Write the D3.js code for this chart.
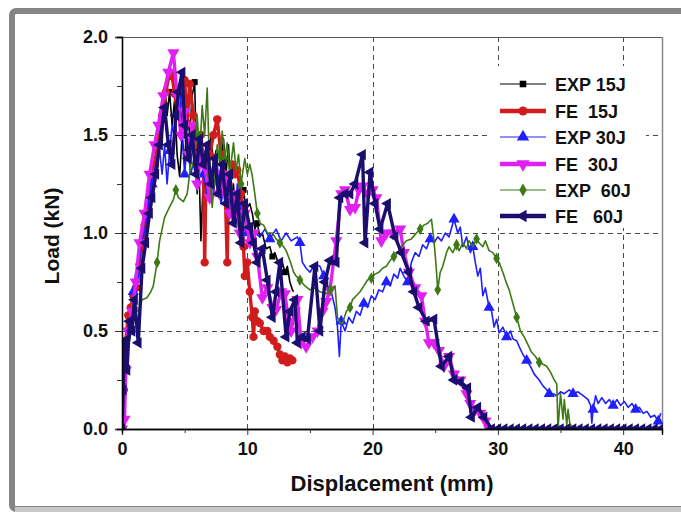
<!DOCTYPE html>
<html>
<head>
<meta charset="utf-8">
<script src="https://cdn.jsdelivr.net/npm/d3@7"></script>
<style>
  body { margin: 0; background: #fff; }
  text { font-family: Arial, "Liberation Sans", sans-serif; font-weight: bold; fill: #111; }
</style>
</head>
<body>
<div class="vis"></div>
<script>
'use strict';

// load vs displacement, [mm, kN]
var exp15 = [[0,0],[0.2,0.35],[0.4,0.5],[0.6,0.45],[0.9,0.6],[1.2,0.72],[1.5,0.85],[1.8,1.0],[2.1,1.1],[2.4,1.22],[2.7,1.35],[3.0,1.5],[3.2,1.45],[3.4,1.75],[3.6,1.6],[3.8,1.72],[4.0,1.55],[4.2,1.68],[4.4,1.4],[4.6,1.29],[4.8,1.5],[5.0,1.35],[5.2,1.62],[5.4,1.5],[5.6,1.7],[5.8,1.77],[6.0,1.2],[6.1,1.45],[6.3,0.96],[6.5,1.3],[6.7,1.4],[6.9,1.25],[7.1,1.5],[7.3,1.35],[7.5,1.42],[7.7,1.2],[7.9,1.35],[8.1,1.48],[8.3,1.3],[8.5,1.45],[8.7,1.15],[8.9,1.25],[9.1,1.05],[9.3,1.2],[9.5,1.1],[9.7,1.22],[9.9,1.12],[10.2,1.15],[10.4,1.1],[10.6,1.02],[10.8,1.05],[11.0,0.98],[11.2,1.0],[11.5,0.92],[11.8,0.93],[12.0,0.88],[12.2,0.9],[12.4,0.86],[12.6,0.82],[12.8,0.85],[13.0,0.8],[13.2,0.83],[13.4,0.75],[13.6,0.71],[13.7,0.7]];

var fe15 = [[0,0],[0.15,0.2],[0.3,0.45],[0.5,0.58],[0.7,0.62],[0.9,0.68],[1.1,0.72],[1.4,0.84],[1.6,0.95],[1.8,1.04],[2.0,1.1],[2.3,1.25],[2.6,1.35],[2.9,1.48],[3.2,1.6],[3.5,1.72],[3.8,1.82],[4.0,1.8],[4.2,1.71],[4.5,1.6],[4.8,1.7],[5.0,1.78],[5.2,1.56],[5.4,1.76],[5.7,1.6],[6.0,1.45],[6.3,1.5],[6.5,1.35],[6.6,0.85],[6.7,1.3],[7.0,1.4],[7.3,1.5],[7.6,1.58],[7.9,1.4],[8.2,1.3],[8.4,0.85],[8.5,1.25],[8.8,1.35],[9.0,1.3],[9.2,1.32],[9.5,1.2],[9.7,0.93],[9.8,0.78],[10.0,0.85],[10.2,0.7],[10.4,0.57],[10.5,0.47],[10.6,0.6],[10.8,0.55],[11.0,0.54],[11.3,0.5],[11.6,0.5],[11.8,0.47],[12.1,0.45],[12.4,0.42],[12.6,0.38],[12.8,0.35],[13.0,0.37],[13.2,0.34],[13.4,0.36],[13.6,0.35]];

var exp30 = [[0,0],[0.1,0.3],[0.2,0.45],[0.3,0.35],[0.5,0.55],[0.7,0.48],[0.9,0.7],[1.1,0.8],[1.3,0.75],[1.5,0.95],[1.8,1.0],[2.1,1.15],[2.4,1.25],[2.7,1.35],[3.0,1.42],[3.2,1.3],[3.4,1.45],[3.6,1.25],[3.8,1.42],[4.0,1.55],[4.2,1.48],[4.4,1.65],[4.6,1.75],[4.8,1.5],[5.0,1.3],[5.2,1.45],[5.5,1.3],[5.8,1.4],[6.0,1.22],[6.2,1.45],[6.5,1.3],[6.8,1.2],[7.0,1.35],[7.3,1.2],[7.6,1.35],[7.9,1.15],[8.2,1.25],[8.5,1.15],[8.8,1.2],[9.0,1.05],[9.2,1.25],[9.5,1.1],[9.8,1.0],[10.0,1.05],[10.3,0.97],[10.6,1.0],[11.0,0.98],[11.4,1.02],[11.8,0.97],[12.3,1.02],[12.7,0.96],[13.1,1.0],[13.5,0.96],[14.0,0.98],[14.2,0.95],[14.4,0.85],[14.7,0.82],[15.0,0.8],[15.4,0.84],[15.8,0.83],[16.1,0.78],[16.4,0.73],[16.7,0.7],[17.0,0.62],[17.2,0.52],[17.35,0.37],[17.5,0.55],[17.8,0.5],[18.1,0.57],[18.4,0.54],[18.7,0.6],[19.0,0.58],[19.3,0.64],[19.6,0.62],[19.9,0.68],[20.2,0.66],[20.5,0.71],[20.8,0.7],[21.1,0.75],[21.4,0.73],[21.7,0.79],[22.0,0.77],[22.2,0.82],[22.5,0.78],[22.8,0.75],[23.1,0.85],[23.4,0.9],[23.7,0.88],[24.0,0.94],[24.3,0.92],[24.6,0.97],[24.9,0.95],[25.2,0.98],[25.5,0.96],[25.8,1.0],[26.1,0.98],[26.5,1.07],[26.8,1.0],[27.0,1.03],[27.2,0.93],[27.5,0.98],[27.8,0.9],[28.0,0.93],[28.2,0.85],[28.4,0.78],[28.6,0.82],[28.8,0.68],[29.0,0.72],[29.3,0.62],[29.5,0.6],[29.7,0.52],[29.9,0.56],[30.1,0.49],[30.4,0.52],[30.7,0.47],[31.0,0.5],[31.2,0.46],[31.5,0.45],[31.7,0.42],[32.0,0.38],[32.3,0.35],[32.6,0.32],[32.9,0.28],[33.3,0.25],[33.6,0.22],[33.9,0.2],[34.1,0.18],[34.4,0.18],[34.7,0.17],[35.0,0.19],[35.3,0.18],[35.7,0.2],[36.0,0.18],[36.4,0.19],[36.8,0.17],[37.2,0.15],[37.4,0.12],[37.5,0.03],[37.6,0.1],[37.8,0.17],[38.0,0.13],[38.3,0.16],[38.6,0.13],[38.9,0.15],[39.2,0.12],[39.5,0.15],[39.8,0.12],[40.1,0.14],[40.4,0.11],[40.7,0.13],[41.0,0.1],[41.3,0.11],[41.6,0.08],[41.9,0.09],[42.2,0.06],[42.5,0.07],[42.8,0.04],[43.0,0.08]];

var fe30 = [[0,0],[0.2,0.05],[0.3,0.3],[0.5,0.5],[0.8,0.6],[1.1,0.75],[1.4,0.95],[1.8,1.1],[2.2,1.3],[2.6,1.45],[2.9,1.55],[3.3,1.7],[3.7,1.82],[4.1,1.92],[4.4,1.7],[4.7,1.5],[5.0,1.62],[5.3,1.4],[5.6,1.55],[6.0,1.25],[6.3,1.4],[6.6,1.34],[7.0,1.18],[7.4,1.3],[7.8,1.2],[8.2,1.3],[8.6,1.1],[9.0,1.2],[9.4,1.0],[9.8,1.1],[10.2,0.95],[10.5,1.0],[10.8,0.88],[11.2,0.67],[11.6,0.72],[12.0,0.62],[12.3,0.61],[12.7,0.7],[13.0,0.69],[13.3,0.55],[13.5,0.5],[13.8,0.6],[14.0,0.66],[14.3,0.44],[14.7,0.42],[15.2,0.47],[15.6,0.5],[16.0,0.6],[16.3,0.65],[16.6,0.71],[17.1,0.96],[17.5,1.2],[17.8,1.22],[18.2,1.12],[18.6,1.13],[18.9,1.22],[19.2,1.24],[19.6,1.2],[20.0,1.22],[20.3,1.18],[20.7,0.96],[21.1,1.0],[21.6,1.0],[22.2,1.02],[22.5,0.9],[22.9,0.8],[23.4,0.72],[23.9,0.68],[24.2,0.55],[24.5,0.44],[24.9,0.44],[25.3,0.4],[25.7,0.32],[26.1,0.37],[26.5,0.28],[27.0,0.25],[27.5,0.18],[27.8,0.13],[28.2,0.1],[28.6,0.08],[29.0,0.04],[29.3,0]];

var exp60 = [[0,0],[0.05,0.21],[0.2,0.3],[0.4,0.42],[0.6,0.5],[0.8,0.58],[1.0,0.62],[1.3,0.6],[1.6,0.66],[2.0,0.67],[2.3,0.7],[2.5,0.73],[2.8,0.85],[3.0,0.96],[3.2,1.02],[3.4,1.08],[3.7,1.12],[4.1,1.17],[4.3,1.22],[4.5,1.18],[4.9,1.16],[5.2,1.2],[5.4,1.3],[5.6,1.45],[5.8,1.35],[6.0,1.6],[6.2,1.4],[6.4,1.65],[6.6,1.5],[6.8,1.74],[7.0,1.3],[7.2,1.13],[7.4,1.3],[7.6,1.45],[7.8,1.35],[8.0,1.52],[8.2,1.38],[8.4,1.46],[8.6,1.3],[8.9,1.46],[9.1,1.32],[9.3,1.4],[9.5,1.25],[9.8,1.38],[10.0,1.3],[10.2,1.35],[10.4,1.29],[10.6,1.2],[10.8,1.1],[11.0,1.05],[11.3,1.04],[11.6,1.0],[12.0,1.0],[12.3,0.97],[12.6,0.95],[12.9,0.93],[13.1,0.91],[13.4,0.86],[13.7,0.8],[13.9,0.78],[14.2,0.76],[14.6,0.73],[15.0,0.71],[15.4,0.72],[15.8,0.7],[16.3,0.69],[16.6,0.71],[17.0,0.73],[17.2,0.57],[17.4,0.54],[17.6,0.54],[17.9,0.6],[18.2,0.62],[18.4,0.66],[18.7,0.68],[19.0,0.7],[19.3,0.73],[19.6,0.76],[19.9,0.77],[20.2,0.79],[20.5,0.8],[20.8,0.82],[21.1,0.83],[21.4,0.86],[21.7,0.88],[22.0,0.9],[22.3,0.93],[22.7,0.96],[23.1,0.97],[23.5,1.0],[23.8,1.02],[24.1,1.04],[24.4,1.05],[24.7,1.07],[24.9,0.96],[25.05,0.85],[25.2,0.71],[25.4,0.8],[25.6,0.83],[25.9,0.9],[26.1,0.93],[26.4,0.9],[26.7,0.94],[26.9,0.91],[27.2,0.95],[27.5,0.92],[27.7,0.96],[28.0,0.93],[28.3,0.97],[28.5,0.95],[28.8,0.93],[29.0,0.96],[29.3,0.91],[29.6,0.9],[29.9,0.87],[30.1,0.85],[30.4,0.8],[30.6,0.76],[30.9,0.71],[31.2,0.64],[31.5,0.57],[31.8,0.5],[32.1,0.47],[32.4,0.43],[32.7,0.39],[33.0,0.37],[33.3,0.34],[33.6,0.33],[33.9,0.32],[34.2,0.29],[34.5,0.25],[34.7,0.23],[34.8,0.0],[35.0,0.18],[35.2,0.05],[35.3,0.15],[35.5,0.02],[35.6,0.1],[35.8,0.0]];

var fe60 = [[0,0],[0.1,0.2],[0.2,0.45],[0.4,0.3],[0.6,0.55],[0.8,0.5],[1.0,0.66],[1.3,0.44],[1.6,0.82],[1.9,0.95],[2.2,1.1],[2.4,1.18],[2.7,1.3],[3.0,1.45],[3.4,1.64],[3.7,1.45],[4.0,1.35],[4.3,1.6],[4.5,1.72],[4.8,1.82],[5.0,1.55],[5.3,1.38],[5.6,1.5],[5.9,1.3],[6.2,1.48],[6.5,1.35],[6.8,1.45],[7.1,1.25],[7.4,1.38],[7.7,1.2],[8.0,1.35],[8.3,1.15],[8.6,1.3],[8.9,1.05],[9.2,1.2],[9.5,0.95],[9.8,1.15],[10.2,1.03],[10.5,0.95],[10.8,0.85],[11.2,0.92],[11.6,0.76],[12.0,0.57],[12.3,0.7],[12.6,0.85],[13.1,0.47],[13.4,0.6],[13.8,0.66],[14.0,0.44],[14.4,0.47],[14.8,0.46],[15.4,0.83],[15.8,0.5],[16.2,0.75],[16.6,0.86],[17.1,0.85],[17.4,1.18],[17.8,1.2],[18.2,1.2],[18.6,1.25],[19.2,1.4],[19.4,0.95],[19.8,1.31],[20.2,1.15],[20.6,1.02],[21.2,1.15],[21.8,0.98],[22.3,0.9],[22.9,0.8],[23.3,0.7],[23.7,0.62],[24.3,0.55],[24.9,0.56],[25.5,0.32],[26.1,0.37],[26.5,0.25],[27.0,0.24],[27.6,0.21],[27.9,0.06],[28.4,0.11],[28.9,0.06],[29.5,0],[30,0],[30.5,0],[31,0],[31.5,0],[32,0],[32.5,0],[33,0],[33.5,0],[34,0],[34.5,0],[35,0],[35.5,0],[36,0],[36.5,0],[37,0],[37.5,0],[38,0],[38.5,0],[39,0],[39.5,0],[40,0],[40.5,0],[41,0],[41.5,0],[42,0],[42.5,0],[43,0]];

var seriesNames = ['EXP 15J', 'FE  15J', 'EXP 30J', 'FE  30J', 'EXP  60J', 'FE   60J'];
var seriesData = [exp15, fe15, exp30, fe30, exp60, fe60];
var seriesColors = ['#000000', '#d01c1c', '#2020ff', '#e020f0', '#3d7a14', '#1a0f6e'];

var xTicks = [0, 10, 20, 30, 40];
var yTicks = [0.0, 0.5, 1.0, 1.5, 2.0];

(function () {
  var width = 681, height = 512;

  // thin lines for experiment, thick for FE; marker every n-th point
  var lineWidths = [1.6, 3.4, 1.6, 3.4, 1.6, 3.4];
  var legendWidths = [1.2, 4.5, 1.2, 4.5, 1.2, 4.5];
  var markerStep = [5, 1, 6, 1, 6, 1];
  var symbols = [d3.symbolSquare, d3.symbolCircle, d3.symbolTriangle, d3.symbolTriangle, d3.symbolDiamond, d3.symbolTriangle];
  var symbolSizes = [36, 55, 55, 65, 40, 55];
  var rotations = [0, 0, 0, 180, 0, -90];

  var svg = d3.select('.vis').append('svg')
    .attr('width', width)
    .attr('height', height);

  // outer grey frame
  svg.append('rect')
    .attr('x', 12).attr('y', 11)
    .attr('width', 700).attr('height', 498)
    .attr('rx', 4)
    .attr('fill', 'none')
    .attr('stroke', '#858585')
    .attr('stroke-width', 6);
  svg.append('line')
    .attr('x1', 15).attr('x2', 681).attr('y1', 509.5).attr('y2', 509.5)
    .attr('stroke', '#c8c8c8').attr('stroke-width', 5);

  var x = d3.scaleLinear().domain([0, 43.1]).range([122, 662]);
  var y = d3.scaleLinear().domain([0, 2]).range([429, 37]);

  var x0 = x.range()[0], x1 = x.range()[1];

  // dashed grid
  var grid = svg.append('g')
    .attr('stroke', '#4a4a4a')
    .attr('stroke-width', 1)
    .attr('stroke-dasharray', '5,4');
  grid.selectAll('.gx').data([10, 20, 30, 40]).enter().append('line')
    .attr('x1', function(d) { return Math.round(x(d)) + 0.5; })
    .attr('x2', function(d) { return Math.round(x(d)) + 0.5; })
    .attr('y1', y(0)).attr('y2', y(2));
  grid.selectAll('.gy').data([0.5, 1.0, 1.5]).enter().append('line')
    .attr('x1', x0).attr('x2', x1)
    .attr('y1', function(d) { return Math.round(y(d)) + 0.5; })
    .attr('y2', function(d) { return Math.round(y(d)) + 0.5; });

  // legend background hides grid behind it
  svg.append('rect')
    .attr('x', 488).attr('y', 66)
    .attr('width', 158).attr('height', 162)
    .attr('fill', '#fff');

  // plot frame: top and right in grey
  svg.append('line').attr('x1', x0).attr('x2', x1).attr('y1', 37.5).attr('y2', 37.5)
    .attr('stroke', '#555').attr('stroke-width', 1);
  svg.append('line').attr('x1', x1 + 0.5).attr('x2', x1 + 0.5).attr('y1', 37).attr('y2', 429)
    .attr('stroke', '#888').attr('stroke-width', 1.5);

  // clip the curves to the plot area
  svg.append('clipPath').attr('id', 'plotClip')
    .append('rect')
    .attr('x', x0).attr('y', 30)
    .attr('width', x1 - x0 + 1).attr('height', 429 - 30 + 1);

  var line = d3.line()
    .x(function(d) { return x(d[0]); })
    .y(function(d) { return y(d[1]); });

  var plot = svg.append('g').attr('clip-path', 'url(#plotClip)');

  seriesData.forEach(function(data, i) {
    var g = plot.append('g');

    g.append('path')
      .datum(data)
      .attr('fill', 'none')
      .attr('stroke', seriesColors[i])
      .attr('stroke-width', lineWidths[i])
      .attr('stroke-linejoin', 'round')
      .attr('d', line);

    var marks = data.filter(function(d, j) { return j % markerStep[i] === 0; });
    g.selectAll('path.mark').data(marks).enter().append('path')
      .attr('class', 'mark')
      .attr('d', d3.symbol().type(symbols[i]).size(symbolSizes[i]))
      .attr('fill', seriesColors[i])
      .attr('transform', function(d) {
        return 'translate(' + x(d[0]) + ',' + y(d[1]) + ') rotate(' + rotations[i] + ')';
      });
  });

  // axes
  var xAxis = d3.axisBottom(x).tickValues(xTicks).tickSize(6).tickFormat(d3.format('d'));
  var xMinor = d3.axisBottom(x).tickValues([5, 15, 25, 35]).tickSize(4).tickFormat('');
  var yAxis = d3.axisLeft(y).tickValues(yTicks).tickSize(7).tickFormat(d3.format('.1f'));
  var yMinor = d3.axisLeft(y).tickValues([0.25, 0.75, 1.25, 1.75]).tickSize(5).tickFormat('');

  var gx = svg.append('g').attr('transform', 'translate(0,429)').call(xAxis);
  svg.append('g').attr('transform', 'translate(0,429)').call(xMinor);
  var gy = svg.append('g').attr('transform', 'translate(122,0)').call(yAxis);
  svg.append('g').attr('transform', 'translate(122,0)').call(yMinor);

  svg.selectAll('.domain').attr('stroke', '#000').attr('stroke-width', 1.3);
  svg.selectAll('.tick line').attr('stroke', '#333');
  gx.selectAll('.tick text')
    .attr('font-size', 18).attr('font-family', 'Arial, "Liberation Sans", sans-serif')
    .attr('y', 10).attr('dy', '0.9em');
  gy.selectAll('.tick text')
    .attr('font-size', 18).attr('font-family', 'Arial, "Liberation Sans", sans-serif')
    .attr('x', -14);

  // axis titles
  svg.append('text')
    .attr('x', 392).attr('y', 491)
    .attr('text-anchor', 'middle')
    .attr('font-size', 22)
    .text('Displacement (mm)');
  svg.append('text')
    .attr('transform', 'translate(59,236) rotate(-90)')
    .attr('text-anchor', 'middle')
    .attr('font-size', 21)
    .text('Load (kN)');

  // legend
  var legendY = [84, 111, 137, 164, 190, 216];
  var legend = svg.append('g');
  seriesNames.forEach(function(name, i) {
    var row = legend.append('g').attr('transform', 'translate(0,' + legendY[i] + ')');
    row.append('line')
      .attr('x1', 500).attr('x2', 546)
      .attr('stroke', seriesColors[i])
      .attr('stroke-width', legendWidths[i]);
    row.append('path')
      .attr('d', d3.symbol().type(symbols[i]).size(symbolSizes[i] * 1.2))
      .attr('fill', seriesColors[i])
      .attr('transform', 'translate(523,0) rotate(' + rotations[i] + ')');
    row.append('text')
      .attr('x', 555).attr('y', 6.5)
      .attr('font-size', 18)
      .style('white-space', 'pre')
      .text(name);
  });
})();
</script>
</body>
</html>
